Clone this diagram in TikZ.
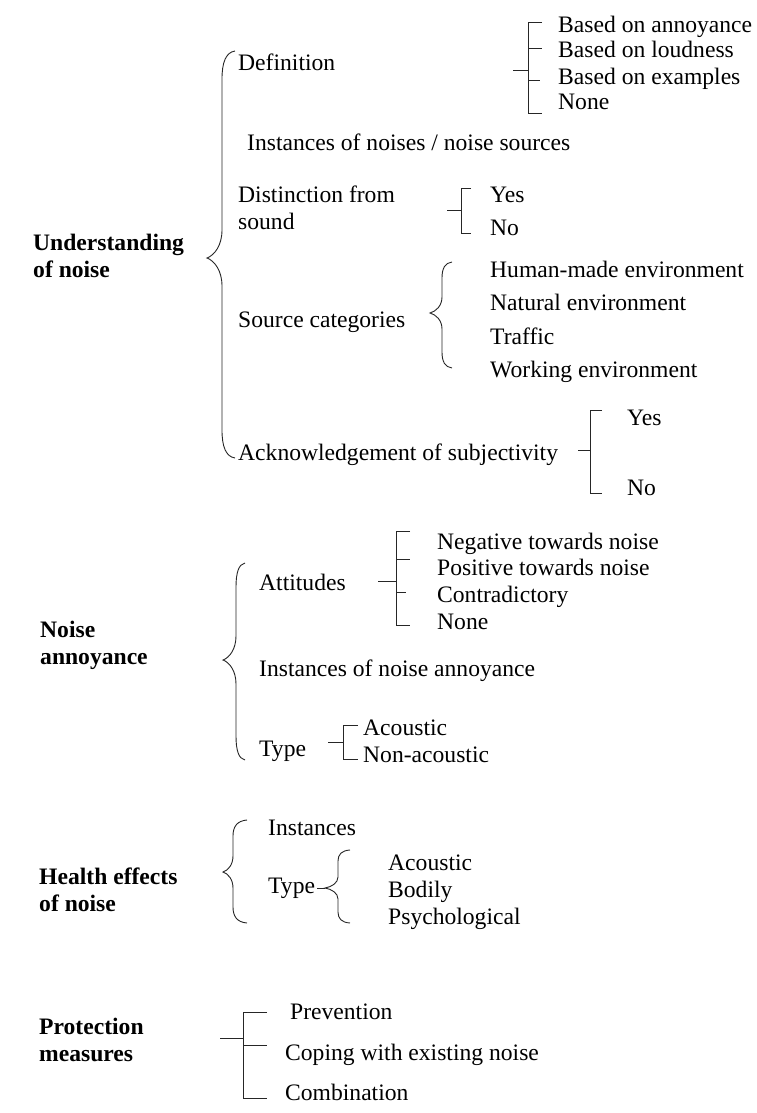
\documentclass[tikz,border=0pt]{standalone}
\usepackage{fontspec}
\setmainfont{Liberation Serif}
\newcommand\twol[2]{\begin{tabular}[t]{@{}l@{}}#1\\#2\end{tabular}}
% curly brace: #1 hook x, #2 line x, #3 tip x, #4 top y, #5 tip y, #6 bottom y, #7 radius
\newcommand\curlyb[7]{%
  \draw[ln] (#1,#4) .. controls ({#2+0.3*(#1-#2)},{#4+0.05*#7}) and ({#2},{#4+0.4*#7}) .. ({#2},{#4+#7})
    -- ({#2},{#5-#7})
    .. controls ({#2},{#5-0.45*#7}) and ({0.5*(#2+#3)},{#5-0.1*#7}) .. (#3,#5)
    .. controls ({0.5*(#2+#3)},{#5+0.1*#7}) and ({#2},{#5+0.45*#7}) .. ({#2},{#5+#7})
    -- ({#2},{#6-#7})
    .. controls ({#2},{#6-0.4*#7}) and ({#2+0.3*(#1-#2)},{#6-0.05*#7}) .. (#1,#6);}
\tikzset{
  txt/.style={anchor=west, inner sep=0pt, text height=15.6pt, text depth=0pt,
    font=\fontsize{23.6}{27}\selectfont},
  lbl/.style={txt, font=\fontsize{23.6}{27}\selectfont\bfseries},
  ln/.style={line width=0.9pt, draw=black!85}
}
\begin{document}
\begin{tikzpicture}[x=1pt,y=-1pt]
\useasboundingbox (0,0) rectangle (756,1113);
% ---------------- Understanding of noise
\node[lbl] (und) at (33,243) {\twol{Understanding}{of noise}};
\curlyb{235}{222}{207}{51}{258}{458}{28}
\node[txt] (def) at (238,63) {Definition};
\draw[ln] (513,70) -- (528,70);
\draw[ln] (542,22) -- (528,22) -- (528,113) -- (542,113);
\draw[ln] (528,48) -- (542,48);
\draw[ln] (528,80) -- (540,80);
\node[txt] (def1) at (558,25) {Based on annoyance};
\node[txt] (def2) at (558,50) {Based on loudness};
\node[txt] (def3) at (558,77) {Based on examples};
\node[txt] (def4) at (558,102) {None};
\node[txt] (inst) at (247,143) {Instances of noises / noise sources};
\node[txt] (dist) at (238,195) {\twol{Distinction from}{sound}};
\draw[ln] (447,210) -- (461,210);
\draw[ln] (471,188) -- (461,188) -- (461,233) -- (471,233);
\node[txt] (dy) at (490,195) {Yes};
\node[txt] (dn) at (490,228) {No};
\node[txt] (src) at (238,320) {Source categories};
\curlyb{452}{442}{430}{262}{313}{368}{16}
\node[txt] (s1) at (490,270) {Human-made environment};
\node[txt] (s2) at (490,303) {Natural environment};
\node[txt] (s3) at (490,337) {Traffic};
\node[txt] (s4) at (490,370) {Working environment};
\node[txt] (ack) at (238,453) {Acknowledgement of subjectivity};
\draw[ln] (578,450) -- (590,450);
\draw[ln] (602,410) -- (590,410) -- (590,493) -- (602,493);
\node[txt] (ay) at (627,418) {Yes};
\node[txt] (an) at (627,488) {No};
% ---------------- Noise annoyance
\node[lbl] (ann) at (40,630) {\twol{Noise}{annoyance}};
\curlyb{245}{236}{223}{563}{660}{760}{24}
\node[txt] (att) at (259,583) {Attitudes};
\draw[ln] (378,581) -- (396,581);
\draw[ln] (410,531) -- (396,531) -- (396,625) -- (410,625);
\draw[ln] (396,559) -- (410,559);
\draw[ln] (396,592) -- (406,592);
\node[txt] (at1) at (437,542) {Negative towards noise};
\node[txt] (at2) at (437,568) {Positive towards noise};
\node[txt] (at3) at (437,595) {Contradictory};
\node[txt] (at4) at (437,622) {None};
\node[txt] (ina) at (259,669) {Instances of noise annoyance};
\node[txt] (nty) at (259,749) {Type};
\draw[ln] (328,742) -- (343,742);
\draw[ln] (358,725) -- (343,725) -- (343,759) -- (358,759);
\node[txt] (nt1) at (363,728) {Acoustic};
\node[txt] (nt2) at (363,755) {Non-acoustic};
% ---------------- Health effects of noise
\node[lbl] (hea) at (39,877) {\twol{Health effects}{of noise}};
\curlyb{247}{233}{223}{820}{872}{923}{16}
\node[txt] (hin) at (268,828) {Instances};
\node[txt] (hty) at (268,886) {Type};
\draw[ln] (317,888) -- (325,888);
\curlyb{350}{338}{325}{850}{888}{923}{11}
\node[txt] (ht1) at (388,863) {Acoustic};
\node[txt] (ht2) at (388,890) {Bodily};
\node[txt] (ht3) at (388,917) {Psychological};
% ---------------- Protection measures
\node[lbl] (pro) at (39,1027) {\twol{Protection}{measures}};
\draw[ln] (220,1038) -- (243,1038);
\draw[ln] (267,1012) -- (243,1012) -- (243,1098) -- (267,1098);
\draw[ln] (243,1045) -- (267,1045);
\node[txt] (p1) at (290,1012) {Prevention};
\node[txt] (p2) at (285,1053) {Coping with existing noise};
\node[txt] (p3) at (285,1093) {Combination};
\end{tikzpicture}
\end{document}
